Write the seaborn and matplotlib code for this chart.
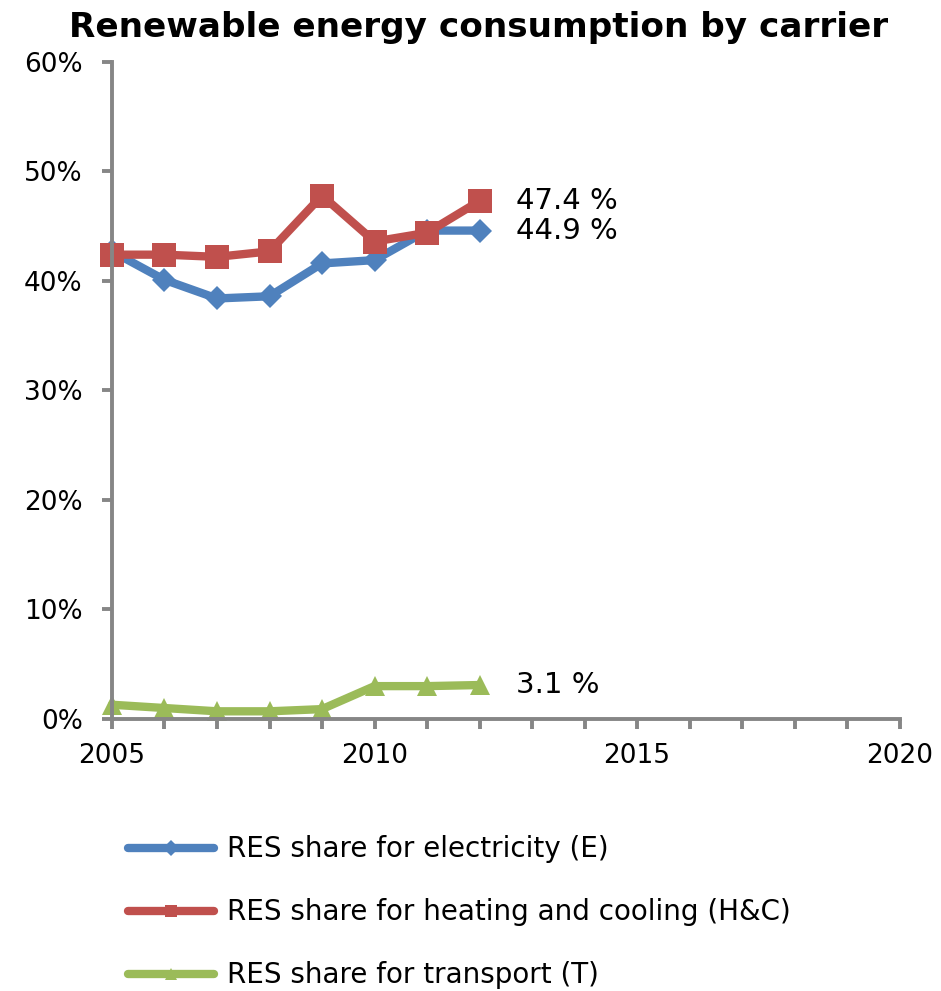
import numpy as np
import pandas as pd
import matplotlib
matplotlib.use("Agg")
import matplotlib.pyplot as plt
from matplotlib.ticker import MultipleLocator, FuncFormatter
import seaborn as sns

years = [2005, 2006, 2007, 2008, 2009, 2010, 2011, 2012]
res_electricity = [42.7, 40.1, 38.4, 38.6, 41.6, 41.9, 44.6, 44.6]
res_heating_cooling = [42.4, 42.4, 42.2, 42.7, 47.8, 43.6, 44.4, 47.3]
res_transport = [1.3, 1.0, 0.7, 0.7, 0.9, 3.0, 3.0, 3.1]

series_names = [
    "RES share for electricity (E)",
    "RES share for heating and cooling (H&C)",
    "RES share for transport (T)",
]
end_labels = ["44.9 %", "47.4 %", "3.1 %"]
colors = ["#4F81BD", "#C0504D", "#9BBB59"]
markers = ["D", "s", "^"]
marker_sizes = [12, 17, 14]

df = pd.DataFrame({
    "year": years * 3,
    "share": res_electricity + res_heating_cooling + res_transport,
    "series": np.repeat(series_names, len(years)),
})

sns.set_theme(style="white")
plt.rcParams["font.family"] = ["DejaVu Sans"]
plt.rcParams["text.color"] = "black"

fig = plt.figure(figsize=(9.41, 9.91), dpi=100)
ax = fig.add_axes([0.119, 0.2745, 0.837, 0.663])

sns.lineplot(data=df, x="year", y="share", hue="series", style="series",
             hue_order=series_names, style_order=series_names,
             palette=dict(zip(series_names, colors)),
             markers=dict(zip(series_names, markers)), dashes=False,
             linewidth=6, markeredgewidth=0, ax=ax, legend=True)

for line, ms in zip(ax.lines[:3], marker_sizes):
    line.set_markersize(ms)
    line.set_clip_on(False)

# end-of-series labels
for name, lab, vals in zip(series_names, end_labels,
                           [res_electricity, res_heating_cooling, res_transport]):
    ax.annotate(lab, xy=(years[-1], vals[-1]), xytext=(26, 0),
                textcoords="offset points", va="center", ha="left",
                fontsize=21, color="black")

ax.set_xlim(2005, 2020)
ax.set_ylim(0, 60)
ax.xaxis.set_major_locator(MultipleLocator(5))
ax.xaxis.set_minor_locator(MultipleLocator(1))
ax.yaxis.set_major_locator(MultipleLocator(10))
ax.yaxis.set_major_formatter(FuncFormatter(lambda v, p: f"{v:.0f}%"))
ax.set_xlabel("")
ax.set_ylabel("")

spine_color = "#868686"
for side in ["top", "right"]:
    ax.spines[side].set_visible(False)
for side in ["left", "bottom"]:
    ax.spines[side].set_color(spine_color)
    ax.spines[side].set_linewidth(2.8)
ax.tick_params(axis="both", which="both", direction="out", length=7,
               width=2.8, color=spine_color, labelsize=19, labelcolor="black",
               bottom=True, left=True)
ax.tick_params(axis="x", which="major", pad=10)
ax.tick_params(axis="y", pad=14)
ax.grid(False)

fig.text(0.509, 0.963, "Renewable energy consumption by carrier", fontsize=24.7,
         fontweight="bold", color="black", ha="center", va="baseline")

handles, labels = ax.get_legend_handles_labels()
ax.get_legend().remove()
leg = fig.legend(handles, labels, loc="upper left", bbox_to_anchor=(0.136, 0.157),
                 frameon=False, fontsize=20, handlelength=3.1, handletextpad=0.45,
                 labelspacing=1.26, borderpad=0, borderaxespad=0)
for h in leg.legend_handles:
    h.set_markersize(8)
    h.set_linewidth(6)
for t in leg.get_texts():
    t.set_color("black")

fig.savefig("out.png", dpi=100)
